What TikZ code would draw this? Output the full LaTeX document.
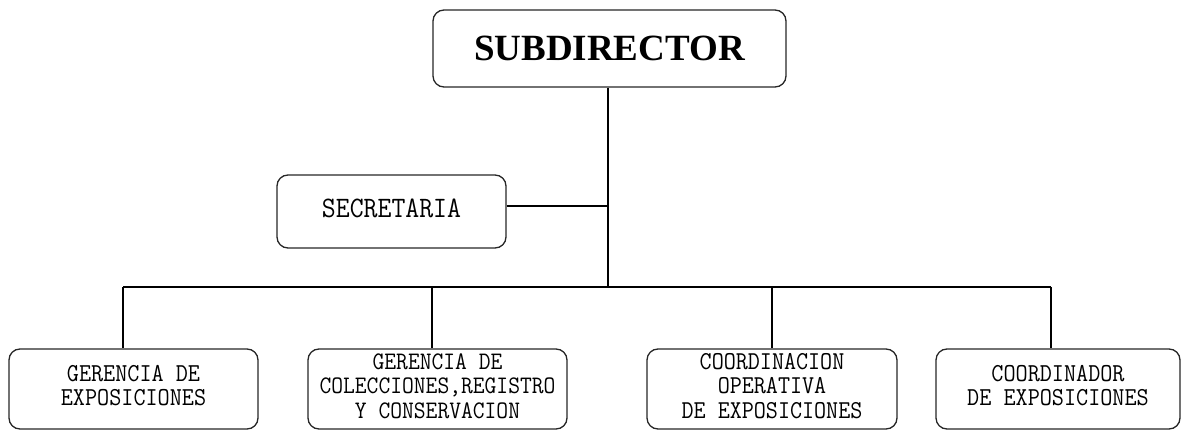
\documentclass[tikz,border=0pt]{standalone}
\usepackage{fontspec}
\usepackage{graphicx}
\setmainfont{Liberation Serif}
\newcommand{\boxtext}[2]{\scalebox{1}[1.1]{\fontsize{#1}{22}\selectfont\ttfamily\begin{tabular}{@{}c@{}}#2\end{tabular}}}
\begin{document}
\begin{tikzpicture}[x=1pt,y=-1pt,
  orgbox/.style={draw=black!85,line width=1.3pt,rounded corners=11pt,inner sep=0pt,align=center},
  conn/.style={draw=black,line width=1.2pt}]
\useasboundingbox (0,0) rectangle (1181,430);
\node[orgbox,minimum width=353pt,minimum height=77pt] (top) at (609.5,48.5)
  {\fontsize{37}{40}\selectfont\bfseries SUBDIRECTOR};
\node[orgbox,minimum width=229pt,minimum height=73pt] (sec) at (391.5,211.5)
  {\boxtext{27}{SECRETARIA}};
\node[orgbox,minimum width=249pt,minimum height=80pt] (b1) at (133.5,389)
  {\boxtext{23.5}{GERENCIA DE\\EXPOSICIONES}};
\node[orgbox,minimum width=259pt,minimum height=80pt] (b2) at (437.5,389)
  {\boxtext{22.9}{GERENCIA DE\\COLECCIONES,REGISTRO\\Y CONSERVACION}};
\node[orgbox,minimum width=250pt,minimum height=80pt] (b3) at (772,389)
  {\boxtext{23.4}{COORDINACION\\OPERATIVA\\DE EXPOSICIONES}};
\node[orgbox,minimum width=244pt,minimum height=80pt] (b4) at (1058,389)
  {\boxtext{23.5}{COORDINADOR\\DE EXPOSICIONES}};
\coordinate (jsec) at (608,206);
\coordinate (bus) at (608,287);
\coordinate (t1) at (123,287);
\coordinate (t2) at (432,287);
\coordinate (t3) at (772,287);
\coordinate (t4) at (1051,287);
\draw[conn] (top.south -| bus) -- (bus);
\draw[conn] (sec.east |- jsec) -- (jsec);
\draw[conn] (t1) -- (t4);
\draw[conn] (t1) -- (t1 |- b1.north);
\draw[conn] (t2) -- (t2 |- b2.north);
\draw[conn] (t3) -- (t3 |- b3.north);
\draw[conn] (t4) -- (t4 |- b4.north);
\end{tikzpicture}
\end{document}
